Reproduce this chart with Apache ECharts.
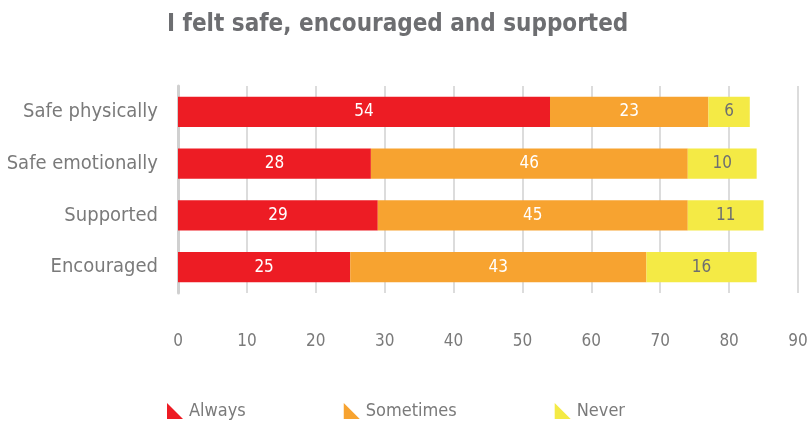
<!DOCTYPE html>
<html><head><meta charset="utf-8">
<script src="https://cdn.jsdelivr.net/npm/echarts@6/dist/echarts.min.js"></script>
<style>html,body{margin:0;padding:0;background:#fff}#c{width:811px;height:423px}</style>
</head><body><div id="c"></div>
<script>
const categories = ['Safe physically', 'Safe emotionally', 'Supported', 'Encouraged'];
const always = [54, 28, 29, 25];
const sometimes = [23, 46, 45, 43];
const never = [6, 10, 11, 16];
const seriesNames = ['Always', 'Sometimes', 'Never'];
const xTicks = [0, 10, 20, 30, 40, 50, 60, 70, 80, 90];

const FONT = "'Liberation Sans Narrow','DejaVu Sans Condensed','Roboto',sans-serif";
const chart = echarts.init(document.getElementById('c'));
const tri = 'path://M0,0 L0,10 L10,10 Z';
function mk(name, data, color, labelColor) {
  return {
    name, type: 'bar', stack: 'a', data, barCategoryGap: '42%',
    itemStyle: { color },
    label: { show: true, position: 'inside', color: labelColor, fontSize: 17, fontFamily: FONT },
    emphasis: { disabled: true }
  };
}
chart.setOption({
  animation: false,
  title: { text: 'I felt safe, encouraged and supported', left: 162, top: 8,
    textStyle: { color: '#6d6e71', fontSize: 24, fontWeight: 'bold', fontFamily: FONT } },
  legend: { data: seriesNames, left: 162, top: 397, itemGap: 98, itemWidth: 18, itemHeight: 16,
    icon: tri, textStyle: { color: '#7a7a7a', fontSize: 18, fontFamily: FONT } },
  grid: { left: 178, right: 13, top: 86, bottom: 130, containLabel: false },
  xAxis: { type: 'value', min: xTicks[0], max: xTicks[xTicks.length - 1], interval: 10,
    axisLine: { show: false }, axisTick: { show: false },
    splitLine: { show: true, lineStyle: { color: '#dcdcdc', width: 2 } },
    axisLabel: { color: '#7a7a7a', fontSize: 17, fontFamily: FONT, margin: 40 } },
  yAxis: { type: 'category', data: categories, inverse: true,
    axisLine: { show: true, lineStyle: { color: '#d0d0d0', width: 3 } },
    axisTick: { show: false },
    axisLabel: { color: '#7a7a7a', fontSize: 20, fontFamily: FONT, margin: 20 } },
  series: [
    mk('Always', always, '#ed1c24', '#ffffff'),
    mk('Sometimes', sometimes, '#f7a330', '#ffffff'),
    mk('Never', never, '#f4ea45', '#6d6e71')
  ]
});
</script></body></html>
